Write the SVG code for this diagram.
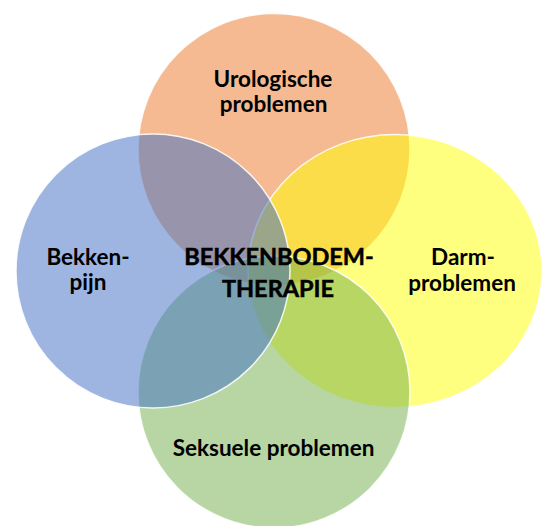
<svg xmlns="http://www.w3.org/2000/svg" width="547" height="526" viewBox="0 0 547 526">
  <style>
    .c { stroke: #ffffff; stroke-width: 1.5; stroke-opacity: 0.85; }
    .lbl { font-family: Lato, "Open Sans", "Liberation Sans", sans-serif; font-weight: bold; font-size: 22.5px; fill: #000000; text-anchor: middle; }
    .ctr { font-family: Lato, "Open Sans", "Liberation Sans", sans-serif; font-weight: bold; font-size: 23.5px; fill: #000000; stroke: #000000; stroke-width: 0.5; text-anchor: middle; }
  </style>
  <rect width="547" height="526" fill="#ffffff"/>
  <g id="urologische">
    <circle class="c" cx="274" cy="149.5" r="136" fill="#ED7D31" fill-opacity="0.53"/>
  </g>
  <g id="darm">
    <ellipse class="c" cx="395" cy="271" rx="147" ry="136.5" fill="#FFFF00" fill-opacity="0.5"/>
  </g>
  <g id="seksuele">
    <circle class="c" cx="274" cy="392" r="136" fill="#70AD47" fill-opacity="0.5"/>
  </g>
  <g id="bekkenpijn">
    <circle class="c" cx="153" cy="271" r="137" fill="#4472C4" fill-opacity="0.52"/>
  </g>
  <g id="connectors"></g>
  <g id="labels">
    <text class="lbl" x="273" y="87">Urologische</text>
    <text class="lbl" x="273.5" y="112">problemen</text>
    <text class="lbl" x="88" y="265">Bekken-</text>
    <text class="lbl" x="88" y="290">pijn</text>
    <text class="lbl" x="463" y="265">Darm-</text>
    <text class="lbl" x="462" y="291">problemen</text>
    <text class="lbl" x="273.5" y="456">Seksuele problemen</text>
    <text class="ctr" x="279" y="265">BEKKENBODEM-</text>
    <text class="ctr" x="278" y="297">THERAPIE</text>
  </g>
</svg>
